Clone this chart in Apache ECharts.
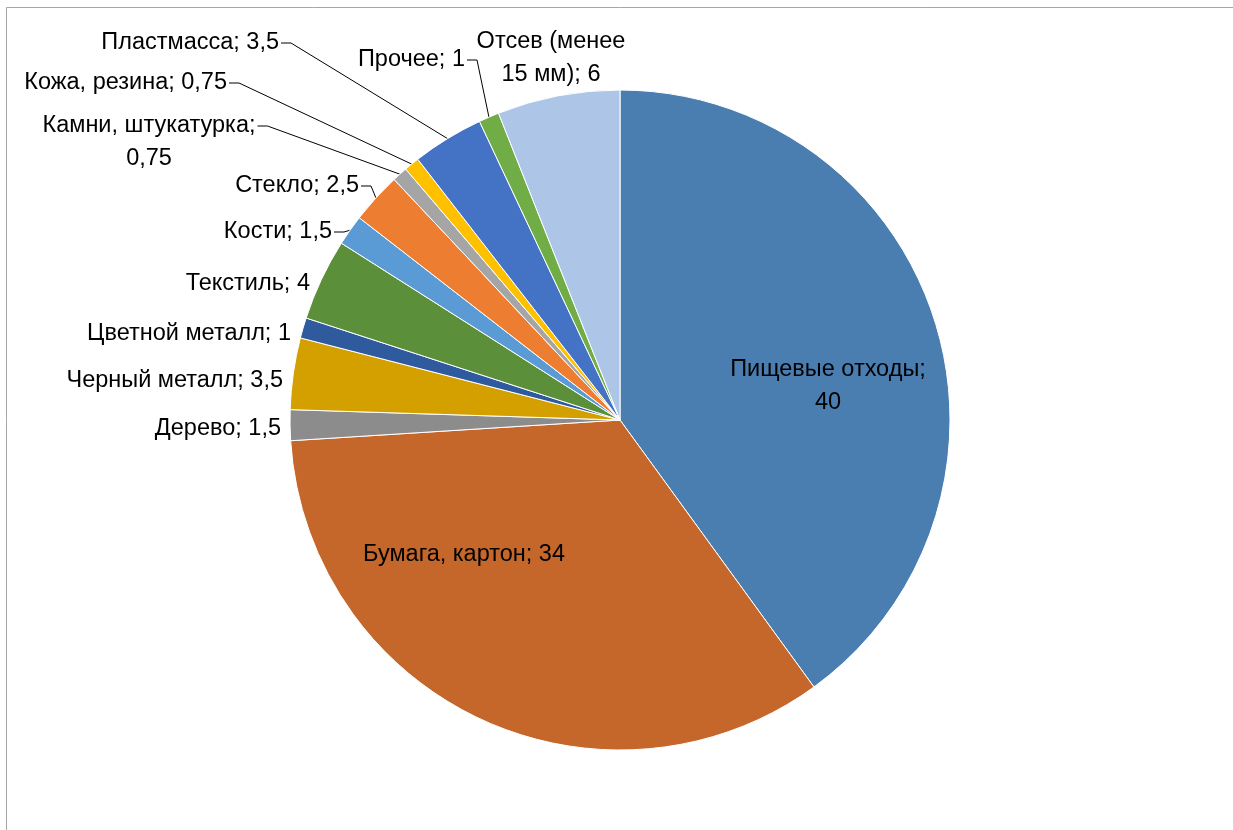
<!DOCTYPE html>
<html>
<head>
<meta charset="utf-8">
<script src="https://cdn.jsdelivr.net/npm/echarts@6/dist/echarts.min.js"></script>
<style>
  html, body { margin: 0; padding: 0; background: #fff; }
  #chart { width: 1233px; height: 830px; }
</style>
</head>
<body>
<div id="chart"></div>
<script>
// состав отходов, % (по часовой стрелке от верхней точки)
var categories = ['Пищевые отходы', 'Бумага, картон', 'Дерево', 'Черный металл', 'Цветной металл',
  'Текстиль', 'Кости', 'Стекло', 'Камни, штукатурка', 'Кожа, резина', 'Пластмасса', 'Прочее',
  'Отсев (менее 15 мм)'];
var values = [40, 34, 1.5, 3.5, 1, 4, 1.5, 2.5, 0.75, 0.75, 3.5, 1, 6];
// у «Камни» пустая первая строка — чтобы выноска шла к первой строке текста
var labelTexts = ['Пищевые отходы;\n40', 'Бумага, картон; 34', 'Дерево; 1,5', 'Черный металл; 3,5',
  'Цветной металл; 1', 'Текстиль; 4', 'Кости; 1,5', 'Стекло; 2,5', ' \nКамни, штукатурка;\n0,75',
  'Кожа, резина; 0,75', 'Пластмасса; 3,5', 'Прочее; 1', 'Отсев (менее\n15 мм); 6'];
var colors = ['#4a7eb0', '#c5672a', '#8c8c8c', '#d4a000', '#2f5a9e', '#5b8f3a', '#5b9bd5',
  '#ed7d31', '#a5a5a5', '#ffc000', '#4472c4', '#70ad47', '#adc5e6'];
var withLeader = [false, false, false, false, false, false, true, true, true, true, true, true, false];

// где стоят подписи (x, y, выравнивание)
var labelSpots = [
  [828, 386, 'center'], [464, 555, 'center'], [283, 429, 'right'], [285, 381, 'right'],
  [293, 334, 'right'], [312, 284, 'right'], [334, 232, 'right'], [361, 186, 'right'],
  [149, 126, 'center'], [229, 83, 'right'], [281, 43, 'right'], [467, 60, 'right'],
  [551, 58, 'center']
];

var myChart = echarts.init(document.getElementById('chart'));

var data = [];
for (var i = 0; i < categories.length; i++) {
  data.push({
    name: categories[i],
    value: values[i],
    itemStyle: { color: colors[i] },
    label: { formatter: labelTexts[i] },
    labelLine: { show: withLeader[i] }
  });
}

var option = {
  animation: false,
  graphic: [{
    type: 'rect',
    shape: { x: 6.5, y: 7.5, width: 1300, height: 900 },
    style: { fill: 'none', stroke: '#a6a6a6', lineWidth: 1 },
    silent: true
  }],
  series: [{
    type: 'pie',
    center: [620, 420],
    radius: 330,
    startAngle: 90,
    clockwise: true,
    avoidLabelOverlap: false,
    itemStyle: { borderColor: '#fff', borderWidth: 1 },
    label: {
      show: true,
      position: 'outside',
      color: '#000',
      fontFamily: 'Liberation Sans, Arial, sans-serif',
      fontSize: 23.5,
      lineHeight: 33,
      padding: [0, 2, 0, 2]
    },
    labelLine: {
      length: 10,
      length2: 10,
      lineStyle: { color: '#000', width: 1 }
    },
    labelLayout: function (params) {
      var s = labelSpots[params.dataIndex];
      return {
        x: s[0],
        y: s[1],
        align: s[2],
        verticalAlign: 'middle',
        hideOverlap: false
      };
    },
    data: data
  }]
};

myChart.setOption(option);
</script>
</body>
</html>
